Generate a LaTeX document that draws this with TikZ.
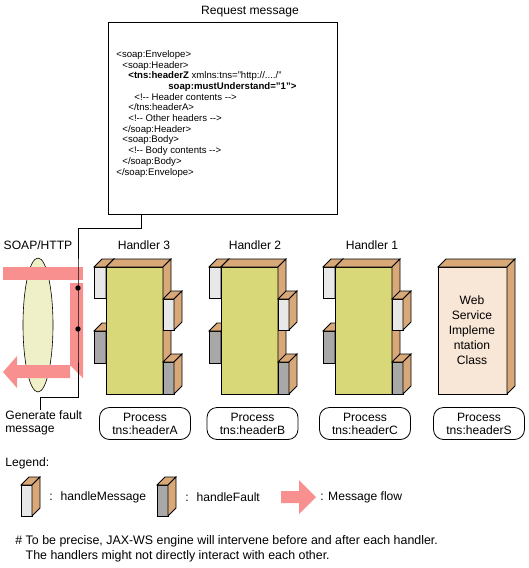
\documentclass[tikz,border=0pt]{standalone}
\usepackage{fontspec}
\setmainfont{Liberation Sans}
\definecolor{greenc}{RGB}{216,216,120}
\definecolor{tanc}{RGB}{216,168,120}
\definecolor{lightc}{RGB}{232,232,232}
\definecolor{grayc}{RGB}{168,168,168}
\definecolor{pinkc}{RGB}{248,144,144}
\definecolor{ovalc}{RGB}{240,240,200}
\definecolor{peachc}{RGB}{248,230,214}

\begin{document}
\begin{tikzpicture}[x=1pt,y=-1pt,line width=0.8pt,
every node/.style={font=\fontsize{12.1}{13}\selectfont,inner sep=0pt},
procbox/.style={draw,rounded corners=10pt,minimum width=91pt,minimum height=32pt,align=center},
flow/.style={fill=pinkc,draw=none},
pics/cuboid/.style n args={3}{code={
\filldraw[fill=#3] (0,0) rectangle (#1,#2);
\filldraw[fill=tanc] (0,0) -- (8,-8) -- (#1+8,-8) -- (#1,0) -- cycle;
\filldraw[fill=tanc] (#1,0) -- (#1+8,-8) -- (#1+8,#2-8) -- (#1,#2) -- cycle;
}}]
\useasboundingbox (0,0) rectangle (528,568);

\node (title) at (250,12) {Request message};
\node[draw,minimum width=229pt,minimum height=192pt] (req) at (222.5,118) {};
\node[anchor=north west,align=left,font=\fontsize{9.6}{10.7}\selectfont] (xml) at (116,50) {%
<soap:Envelope>\\
\hspace*{6pt}<soap:Header>\\
\hspace*{12pt}\textbf{<tns:headerZ} xmlns:tns="http://..../"\\
\hspace*{52pt}\textbf{soap:mustUnderstand="1">}\\
\hspace*{18pt}<!-{}- Header contents -{}->\\
\hspace*{12pt}</tns:headerA>\\
\hspace*{12pt}<!-{}- Other headers -{}->\\
\hspace*{6pt}</soap:Header>\\
\hspace*{6pt}<soap:Body>\\
\hspace*{12pt}<!-{}- Body contents -{}->\\
\hspace*{6pt}</soap:Body>\\
</soap:Envelope>};

% SOAP/HTTP side
\node (soap) at (38,245) {SOAP/HTTP};
\filldraw[fill=ovalc,line width=0.6pt] (38,325) ellipse (15 and 67);
\fill[flow] (3,267) rectangle (83,280);
\fill[flow] (70,283) rectangle (83,378) -- (17,378) -- (17,388) -- (3,372) -- (17,356) -- (17,365) -- (70,365) -- cycle;
\node[anchor=north west,align=left] (gen) at (5,410) {Generate fault\\message};
\coordinate (b1) at (141,228);
\coordinate (d1) at (78,288);
\coordinate (d2) at (78,329);
\coordinate (b2) at (78,397);
\coordinate (b3) at (40,397);
\draw (req.south -| b1) -- (b1) -| (d1) -- (d2) -- (b2) -- (b3) -- (b3 |- gen.north);
\fill (d1) circle (2.7);
\fill (d2) circle (2.7);

% handlers
\foreach \x/\n/\lx/\px/\h in {106/3/144/145/A, 221/2/255/252.5/B, 335/1/372/365/C}{
\node at (\lx,245) {Handler \n};
\pic at (\x-12,267) {cuboid={12}{31}{lightc}};
\pic at (\x-12,331) {cuboid={12}{32}{grayc}};
\pic at (\x,267) {cuboid={57}{127}{greenc}};
\pic at (\x+57,299) {cuboid={11}{31}{lightc}};
\pic at (\x+57,362) {cuboid={11}{32}{grayc}};
\node[procbox] (proc\h) at (\px,423.5) {Process\\tns:header\h};
}
\pic at (438,267) {cuboid={69}{127}{peachc}};
\node[align=center,font=\fontsize{12.1}{15}\selectfont] (ws) at (472,330) {Web\\Service\\Impleme\\ntation\\Class};
\node[procbox] (procS) at (479,423.5) {Process\\tns:headerS};

% legend
\node[anchor=west] (leg) at (5,463) {Legend:};
\pic at (21,485) {cuboid={11}{31}{lightc}};
\node[anchor=west] (lm) at (49,497) {:~ handleMessage};
\pic at (157,485) {cuboid={11}{31}{grayc}};
\node[anchor=west] (lf) at (185,497) {:~ handleFault};
\fill[flow] (281,491) -- (299,491) -- (299,480) -- (316,497) -- (299,514) -- (299,503) -- (281,503) -- cycle;
\node[anchor=west] (lflow) at (320,497) {: Message flow};
\node[anchor=west,align=left,font=\fontsize{12.4}{15}\selectfont] (note) at (15,549) {\# To be precise, JAX-WS engine will intervene before and after each handler.\\\phantom{\# }The handlers might not directly interact with each other.};
\end{tikzpicture}
\end{document}
